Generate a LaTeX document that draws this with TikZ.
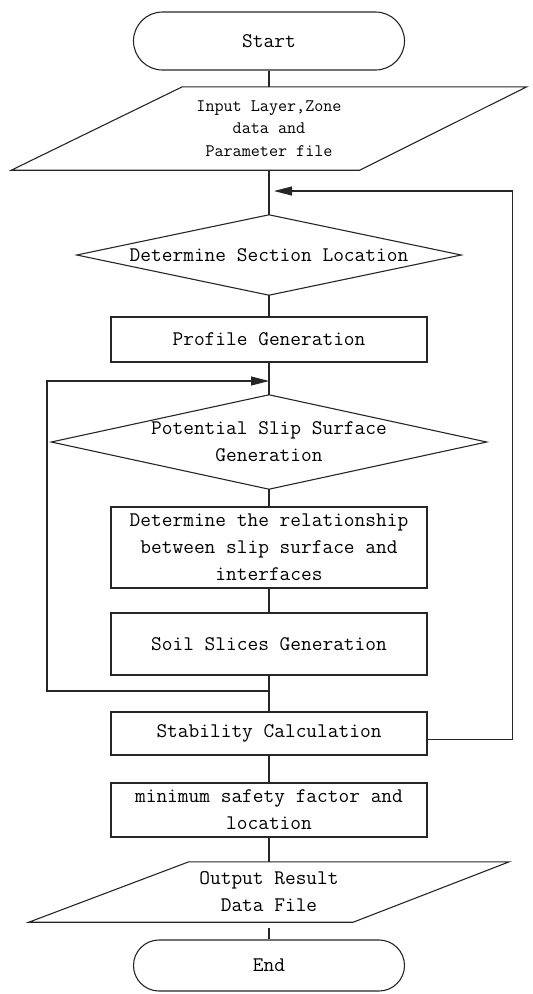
\documentclass[tikz,border=0pt]{standalone}
\usepackage{fontspec}
\usetikzlibrary{arrows.meta}
\begin{document}
\begin{tikzpicture}[x=1pt,y=-1pt,
  every node/.style={font=\ttfamily\fontsize{20.8}{27}\selectfont, align=center, inner sep=0pt, text=black},
  ln/.style={draw=black!85, line width=1.1pt, line join=miter},
  proc/.style={ln, rectangle, minimum width=316pt},
  term/.style={ln, rectangle, minimum width=271pt},
  arr/.style={ln, -{Triangle[length=18pt,width=9pt]}}]
\useasboundingbox (0,0) rectangle (533,994);
% nodes
\node[term, rounded corners=29pt, minimum height=58pt] (start) at (269,41) {Start};
\node[minimum width=515pt, minimum height=83pt, font=\ttfamily\fontsize{17.6}{22.5}\selectfont] (in) at (269,128.5) {Input Layer,Zone\\data and\\Parameter file};
\draw[ln] ([xshift=171pt]in.north west) -- (in.north east) -- ([xshift=-167pt]in.south east) -- (in.south west) -- cycle;
\node[minimum width=384pt, minimum height=80pt] (d1) at (269,255) {Determine Section Location};
\draw[ln] (d1.north) -- (d1.east) -- (d1.south) -- (d1.west) -- cycle;
\node[proc, minimum height=45pt] (prof) at (269,339.5) {Profile Generation};
\node[minimum width=435pt, minimum height=94pt] (d2) at (269,442) {Potential Slip Surface\\Generation};
\draw[ln] (d2.north) -- (d2.east) -- (d2.south) -- (d2.west) -- cycle;
\node[proc, minimum height=81pt] (rel) at (269,547.5) {Determine the relationship\\between slip surface and\\interfaces};
\node[proc, minimum height=62pt] (soil) at (269,644) {Soil Slices Generation};
\node[proc, minimum height=43pt] (stab) at (269,733.5) {Stability Calculation};
\node[proc, minimum height=54pt] (mins) at (269,810) {minimum safety factor and\\location};
\node[minimum width=480pt, minimum height=60pt] (out) at (269,892) {Output Result\\Data File};
\draw[ln] ([xshift=160pt]out.north west) -- (out.north east) -- ([xshift=-156pt]out.south east) -- (out.south west) -- cycle;
\node[term, rounded corners=25.5pt, minimum height=51pt] (end) at (269,965.5) {End};
% junction coordinates
\coordinate (j1) at (269,191);
\coordinate (j2) at (269,691);
\coordinate (j3) at (269,381);
% connectors
\draw[ln] (start.south) -- (in.north);
\draw[ln] (in.south) -- (d1.north);
\draw[ln] (d1.south) -- (prof.north);
\draw[ln] (prof.south) -- (d2.north);
\draw[ln] (d2.south) -- (rel.north);
\draw[ln] (rel.south) -- (soil.north);
\draw[ln] (soil.south) -- (stab.north);
\draw[ln] (stab.south) -- (mins.north);
\draw[ln] (mins.south) -- (out.north);
\draw[ln, shorten <=6pt] (out.south) -- (end.north);
\draw[arr] ([yshift=-6pt]stab.east) -- ++(85,0) |- ([xshift=5pt]j1);
\draw[arr] (j2) -- ++(-222,0) |- (j3);
\end{tikzpicture}
\end{document}
